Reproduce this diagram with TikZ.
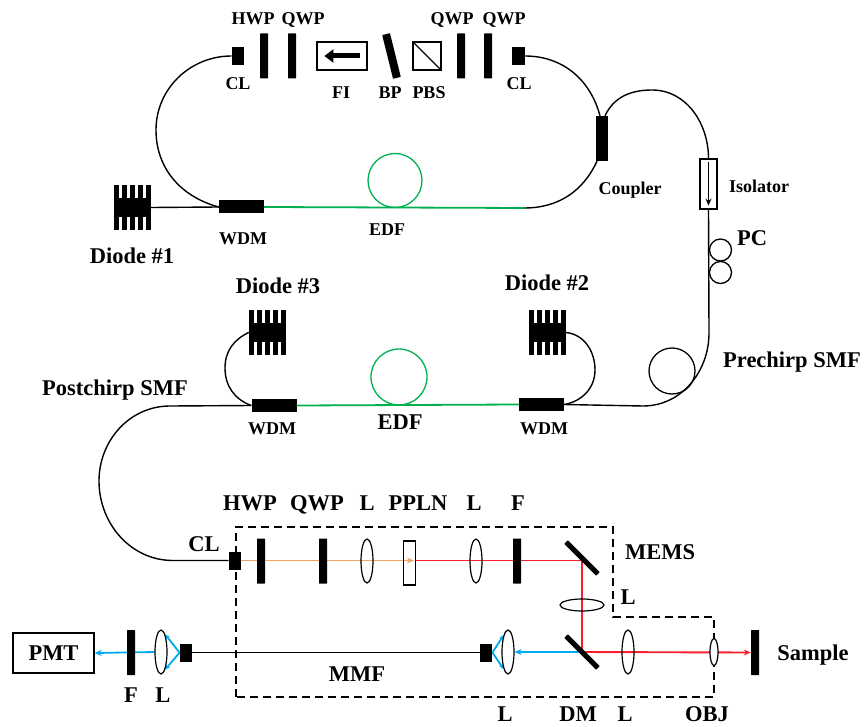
\documentclass[tikz,border=0pt]{standalone}
\usepackage{fontspec}
\setmainfont{Liberation Serif}
\usetikzlibrary{arrows.meta,shapes.geometric,backgrounds}

\definecolor{edfgreen}{RGB}{0,176,80}
\definecolor{beamred}{RGB}{250,30,45}
\definecolor{beamorange}{RGB}{244,164,96}
\definecolor{beamblue}{RGB}{0,170,240}

\begin{document}
\begin{tikzpicture}[
  x=1pt, y=-1pt,
  lab/.style={font=\fontsize{18}{20}\selectfont\bfseries, inner sep=0pt, text depth=0pt},
  labbig/.style={font=\fontsize{22.5}{24}\selectfont\bfseries, inner sep=0pt, text depth=0pt},
  plate/.style={fill=black, inner sep=0pt, minimum width=8pt, minimum height=45pt, rounded corners=0.5pt},
  block/.style={fill=black, inner sep=0pt, minimum width=#1, minimum height=13pt},
  block/.default=45pt,
  colli/.style={fill=black, inner sep=0pt, minimum width=12.5pt, minimum height=18pt},
  lens/.style={draw, ellipse, line width=1.2pt, inner sep=0pt, minimum width=12pt, minimum height=44pt},
  optbox/.style={draw, line width=1.2pt, inner sep=0pt},
  loopc/.style={draw, circle, inner sep=0pt, line width=1.3pt},
  fiber/.style={line width=1.4pt},
  grn/.style={line width=1.8pt, edfgreen},
  redb/.style={line width=1.9pt, beamred},
  orb/.style={line width=1.9pt, beamorange},
  blub/.style={line width=1.8pt, beamblue},
  tip/.style={-{Stealth[length=7pt,width=6pt]}},
  diode/.pic={
    \node[fill=black, inner sep=0pt, minimum width=37pt, minimum height=19pt] (body) {};
    \foreach \i in {0,...,4} {
      \fill ({-18.5+8*\i},-22.5) rectangle ++(5,45);
    }
  }]
\useasboundingbox (0,0) rectangle (864,727);

% cavity
\node[colli] (cl1) at (238,56) {};
\node[plate] (hwp1) at (264,56) {};
\node[plate] (qwp1) at (292,56) {};
\node[optbox, minimum width=50pt, minimum height=28pt] (fi) at (342,56) {};
\node[plate, minimum height=8pt, minimum width=45pt, rotate=-76] (bp) at (391.5,56) {};
\node[optbox, minimum width=28pt, minimum height=28pt] (pbs) at (427,56) {};
\node[plate] (qwp2) at (461,56) {};
\node[plate] (qwp3) at (488,56) {};
\node[colli] (cl2) at (518.5,56) {};
\node[block] (wdm1) at (241.5,207) {};
\node[loopc, edfgreen, minimum size=54pt] (edf1) at (395,180.5) {};
\node[fill=black, inner sep=0pt, minimum width=12.5pt, minimum height=45pt] (coup) at (602,138.5) {};
\pic (d1) at (132.5,207.5) {diode};
\coordinate (edfend) at (524,208);

\draw[fiber] (d1body.east) -- (wdm1.west);
\draw[fiber] (cl1.west) to[out=180,in=90] (156,130) to[out=-90,in=165] (wdm1.west);
\draw[grn] (wdm1.east) -- (edfend);
\draw[fiber] (edfend) to[out=0,in=-115] ([xshift=-5pt]coup.south);
\draw[fiber] (cl2.east) to[out=0,in=105] ([xshift=-2pt]coup.north);
\draw[optbox] (pbs.north west) -- (pbs.south east);
\draw[line width=5pt, -{Triangle[length=9pt,width=13pt]}, shorten >=8pt, shorten <=8pt] (fi.east) -- (fi.west);

% to the amplifier
\node[optbox, fill=white, minimum width=17pt, minimum height=50pt] (iso) at (708.5,184) {};
\node[loopc, minimum size=22pt] (pc1) at (720.5,250) {};
\node[loopc, minimum size=22pt] (pc2) at (720.5,272.5) {};
\node[loopc, minimum size=46pt] (pre) at (672,371) {};
\node[block] (wdm2) at (541.5,404.5) {};
\coordinate (prebend) at (709,333);
\coordinate (prelow) at (643,406);

\draw[fiber] ([xshift=3pt]coup.north) to[out=65,in=180] (652,90) to[out=0,in=90] (iso.north);
\draw[line width=1.5pt, tip, shorten >=4pt, shorten <=4pt] (iso.north) -- (iso.south);
\draw[fiber] (iso.south) -- (prebend) to[out=-90,in=0] (prelow) -- (wdm2.east);

% amplifier
\node[block] (wdm3) at (274,405.5) {};
\node[loopc, edfgreen, minimum size=56pt] (edf2) at (399,377) {};
\pic (d2) at (547,332.5) {diode};
\pic (d3) at (267.5,332.5) {diode};
\coordinate (posttop) at (170,406);
\node[colli] (cl3) at (235,560.5) {};

\draw[grn] (wdm2.west) -- (wdm3.east);
\draw[fiber] (d2body.east) to[out=-5,in=90] (595,370) to[out=-90,in=10] (wdm2.east);
\draw[fiber] (d3body.west) to[out=205,in=90] (225,368) to[out=-90,in=160] (wdm3.west);
\draw[fiber] (wdm3.west) -- (posttop) to[out=180,in=90] (99,481) to[out=-90,in=180] (173,560.5) -- (cl3.west);

% microscope
\node[plate] (hwp2) at (261,561) {};
\node[plate] (qwp4) at (323,561) {};
\node[lens] (lens1) at (367,561) {};
\node[optbox, minimum width=11.5pt, minimum height=44pt] (ppln) at (409.5,563) {};
\node[lens] (lens2) at (476,561) {};
\node[plate] (filt1) at (517,561) {};
\node[plate, minimum width=45pt, minimum height=5pt, rotate=-45] (mems) at (582,558) {};
\node[lens, minimum width=44pt, minimum height=12pt] (lens3) at (582,605) {};
\node[plate, minimum width=45pt, minimum height=5pt, rotate=-45] (dm) at (582,652) {};
\node[lens] (lens4) at (628,652) {};
\node[lens, fill=white, minimum width=8pt, minimum height=27pt] (obj) at (714,652) {};
\node[plate] (sample) at (755,652.5) {};
\node[lens] (lens5) at (508,652) {};
\node[colli] (cl4) at (486,652.6) {};
\node[colli] (cl5) at (186,652.6) {};
\node[lens] (lens6) at (161,652) {};
\node[plate] (filt2) at (131,652.5) {};
\node[draw, line width=1.2pt, inner sep=0pt, minimum width=81pt, minimum height=40pt, labbig] (pmt) at (53.5,653) {PMT};

\begin{scope}[on background layer]
  \draw[line width=1.2pt, dash pattern=on 8pt off 5pt] (236,697) -- (236,527) -- (613,527) -- (613,617) -- (714,617) -- (714,697) -- cycle;
  \draw[orb, tip] (cl3.east) -- ([xshift=-2pt]ppln.east |- cl3.east);
  \draw[blub, tip] (dm.center) -- (lens5.east);
  \draw[redb] (ppln.east |- cl3.east) -| (dm.center);
  \draw[redb, tip] (dm.center) -- (sample.west);
  \draw[blub, -{Stealth[length=5pt,width=4pt]}] (cl4.east) -- (lens5.104);
  \draw[blub, -{Stealth[length=5pt,width=4pt]}] (cl4.east) -- (lens5.-104);
  \draw[fiber] (cl5.east) -- (cl4.west);
  \draw[blub, -{Stealth[length=5pt,width=4pt]}] (cl5.west) -- (lens6.77);
  \draw[blub, -{Stealth[length=5pt,width=4pt]}] (cl5.west) -- (lens6.-77);
  \draw[blub, tip] (lens6.west) -- (pmt.east);
\end{scope}

% labels
\node[lab] (t1) at (253,19) {HWP};
\node[lab] (t2) at (303,19) {QWP};
\node[lab] (t3) at (452,19) {QWP};
\node[lab] (t4) at (504,19) {QWP};
\node[lab] (t5) at (238,84) {CL};
\node[lab] (t6) at (341,93) {FI};
\node[lab] (t7) at (390,93) {BP};
\node[lab] (t8) at (429,93) {PBS};
\node[lab] (t9) at (519,84) {CL};
\node[lab] (t10) at (243,239) {WDM};
\node[lab] (t11) at (387,230) {EDF};
\node[labbig] (t12) at (132,256) {Diode \#1};
\node[lab] (t13) at (630,188) {Coupler};
\node[lab] (t14) at (759,186) {Isolator};
\node[labbig] (t15) at (752,238) {PC};
\node[labbig] (t16) at (792,360) {Prechirp SMF};
\node[labbig] (t17) at (547,283) {Diode \#2};
\node[labbig] (t18) at (278,286) {Diode \#3};
\node[labbig] (t19) at (115,388) {Postchirp SMF};
\node[lab] (t20) at (272,429) {WDM};
\node[labbig] (t21) at (400,422) {EDF};
\node[lab] (t22) at (544,429) {WDM};
\node[labbig] (t23) at (250,503) {HWP};
\node[labbig] (t24) at (317,503) {QWP};
\node[labbig] (t25) at (367,503) {L};
\node[labbig] (t26) at (418,503) {PPLN};
\node[labbig] (t27) at (474,503) {L};
\node[labbig] (t28) at (518,503) {F};
\node[labbig] (t29) at (204,544) {CL};
\node[labbig] (t30) at (660,552) {MEMS};
\node[labbig] (t31) at (628,597) {L};
\node[labbig] (t32) at (813,653) {Sample};
\node[labbig] (t33) at (357,674) {MMF};
\node[labbig] (t34) at (131,695) {F};
\node[labbig] (t35) at (163,695) {L};
\node[labbig] (t36) at (505,714) {L};
\node[labbig] (t37) at (578,714) {DM};
\node[labbig] (t38) at (625,714) {L};
\node[labbig] (t39) at (707,714) {OBJ};
\end{tikzpicture}
\end{document}
